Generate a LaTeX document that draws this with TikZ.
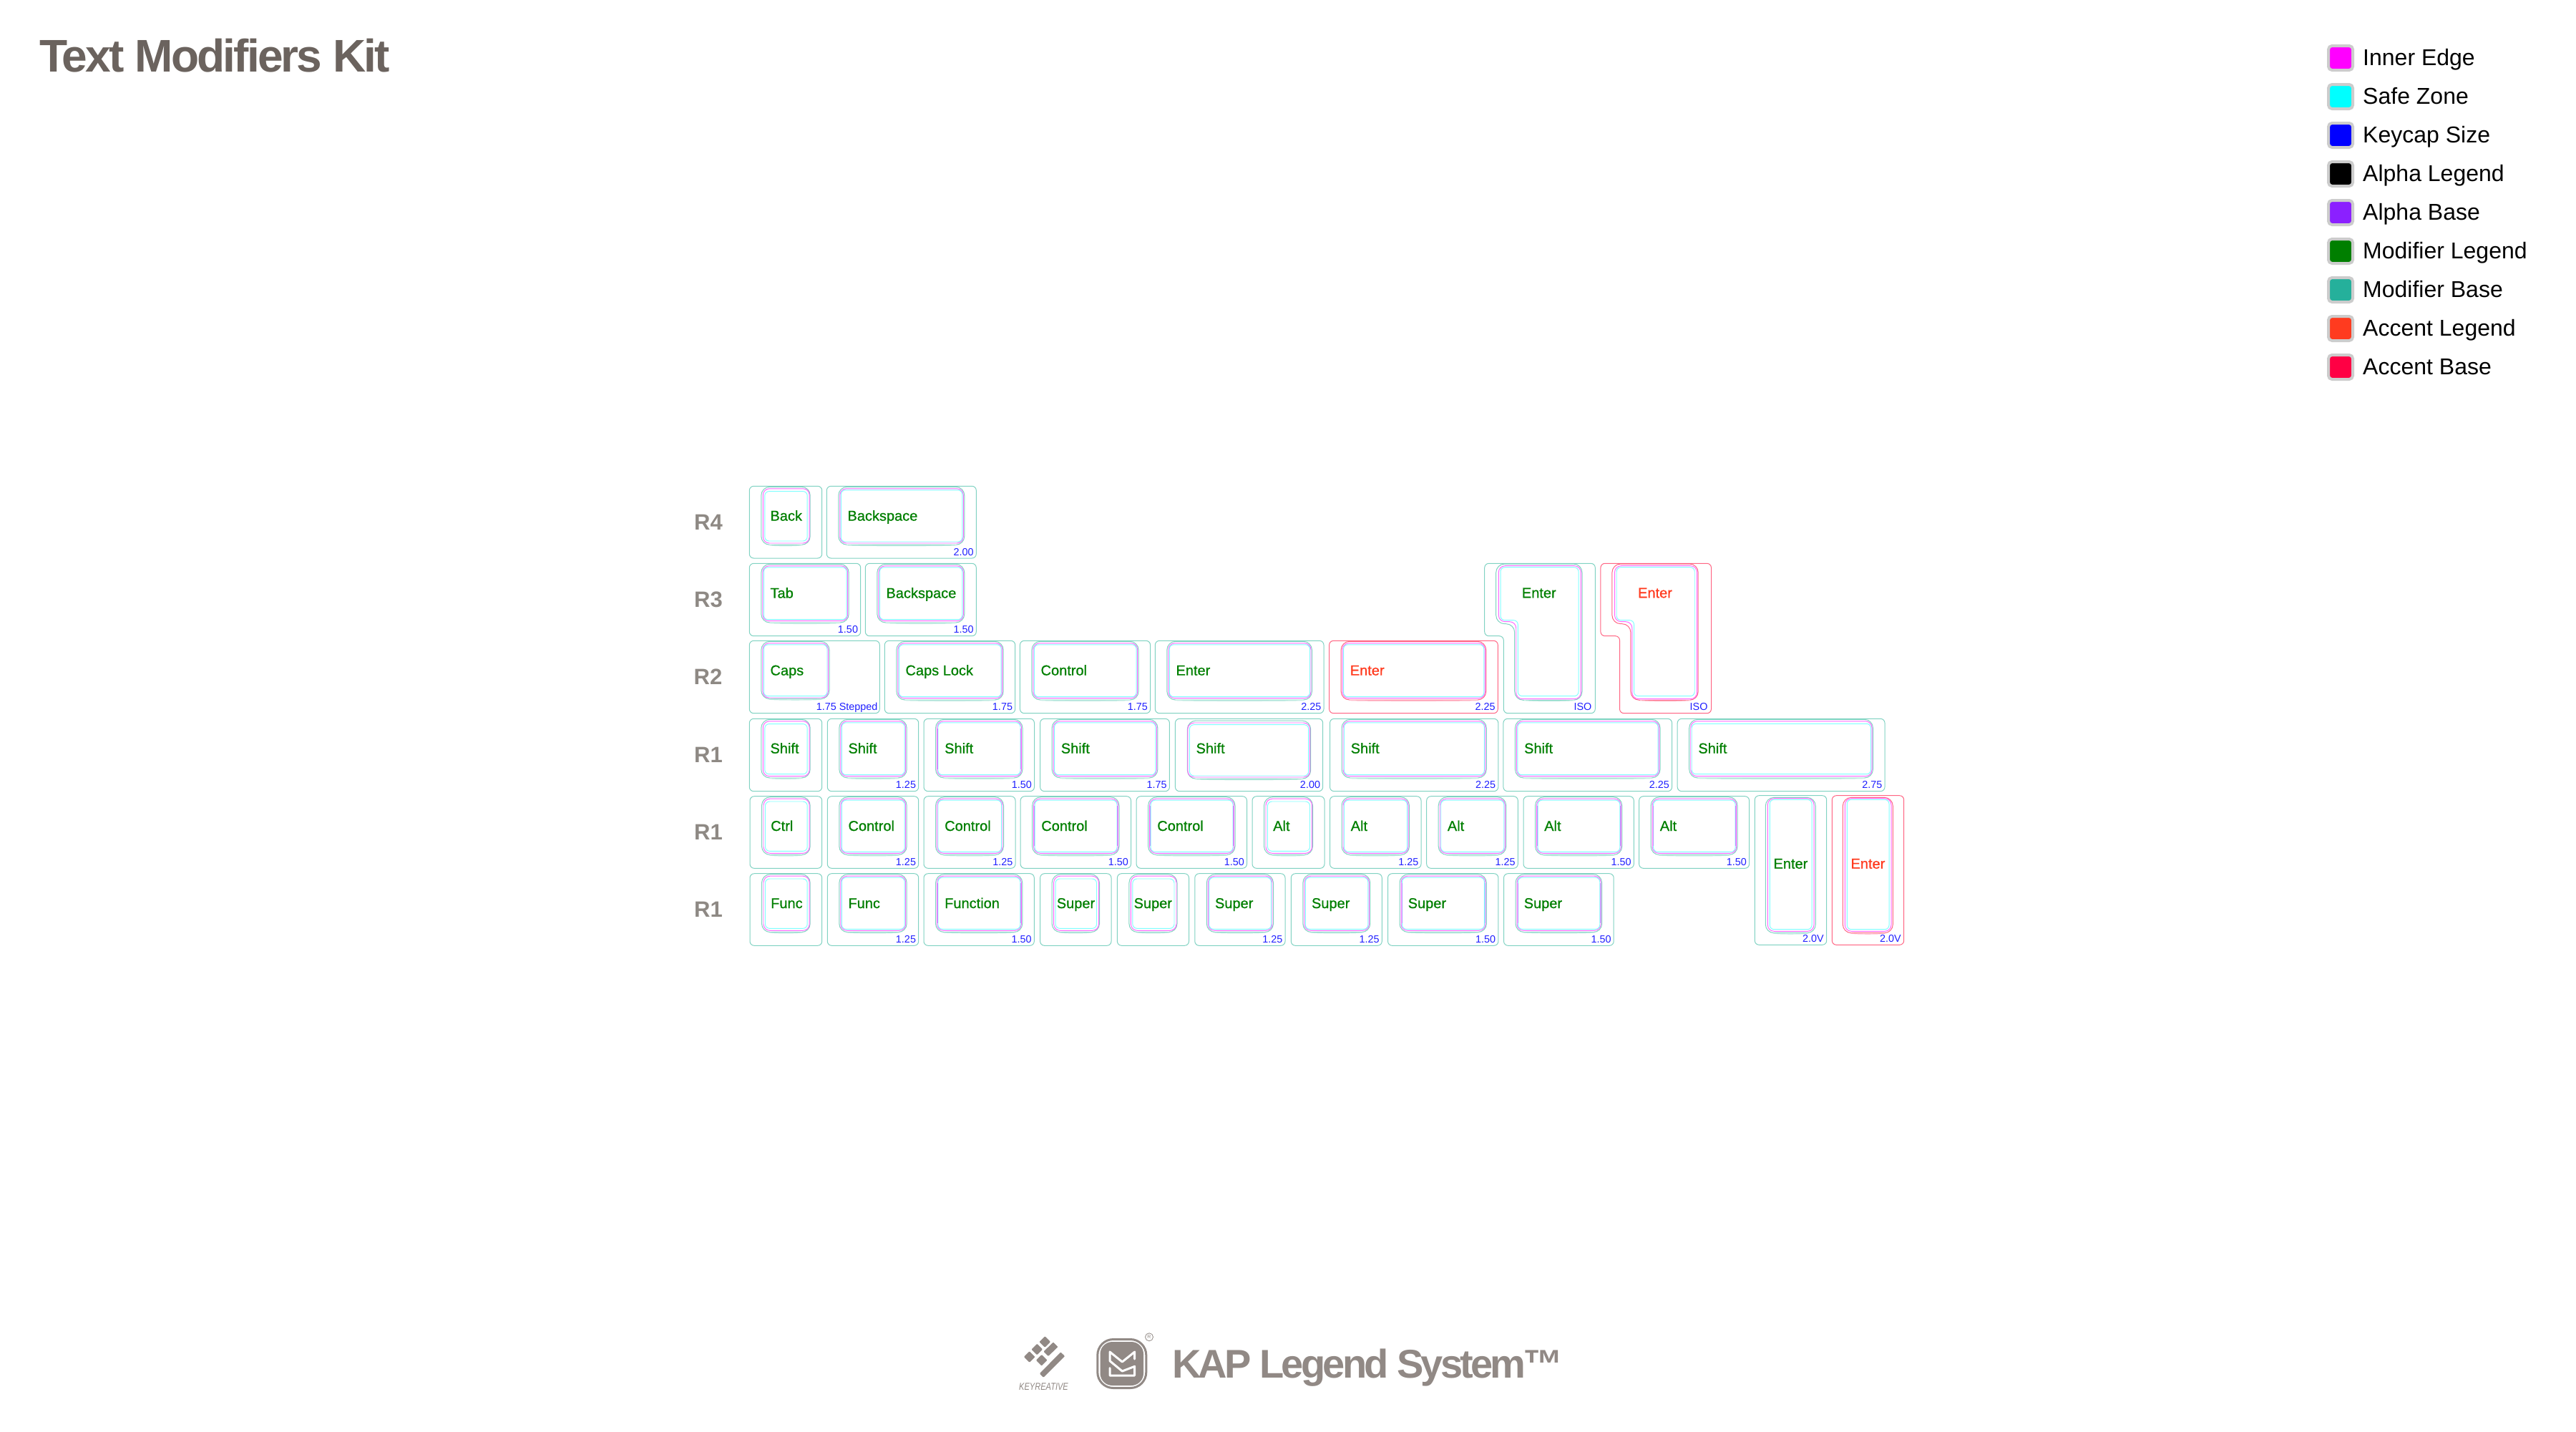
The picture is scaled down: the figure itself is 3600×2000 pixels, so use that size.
\documentclass[tikz,border=0pt]{standalone}
\usepackage{fontspec}
\usepackage{graphicx}
\setmainfont{Liberation Sans}
\newfontfamily\legendfont[FakeBold=0.7]{Liberation Sans}
\newfontfamily\titlefont[LetterSpace=-4.4]{Liberation Sans Bold}
\newfontfamily\brandfont[LetterSpace=-6.8]{Liberation Sans Bold}
\newfontfamily\rowfont{Liberation Sans Bold}
\newfontfamily\keyrfont[FakeStretch=0.79]{Liberation Sans Italic}
\definecolor{cTitle}{HTML}{6B635E}
\definecolor{cBrand}{HTML}{918985}
\definecolor{cRow}{HTML}{8E8984}
\definecolor{cTeal}{HTML}{80D2C2}
\definecolor{cTealPale}{HTML}{C8EDE6}
\definecolor{cPink}{HTML}{FF6583}
\definecolor{cPinkPale}{HTML}{FFC0CE}
\definecolor{cMag}{HTML}{FF66FF}
\definecolor{cCy}{HTML}{80FFFF}
\definecolor{cSide}{HTML}{B4A0FF}
\definecolor{cSize}{HTML}{2020FF}
\definecolor{cInner}{HTML}{FF00FF}
\definecolor{cSafe}{HTML}{00FFFF}
\definecolor{cCap}{HTML}{0000FF}
\definecolor{cAlphaL}{HTML}{000000}
\definecolor{cAlphaB}{HTML}{8B20FF}
\definecolor{cModL}{HTML}{007F00}
\definecolor{cModB}{HTML}{25B09B}
\definecolor{cAccL}{HTML}{FF3B1F}
\definecolor{cAccB}{HTML}{FF0044}
\pgfkeys{/kc/.cd,
 tl/.initial=16.5,tt/.initial=1,tr/.initial=16.5,tb/.initial=18.7,
 ml/.initial=18.5,mt/.initial=3.5,mr/.initial=18,mb/.initial=21,
 sl/.initial=20,st/.initial=5.5,sr/.initial=19.5,sb/.initial=23,
 lx/.initial=29,ly/.initial=48.3,szr/.initial=3.5,szb/.initial=4,
 col/.initial=cTeal,pale/.initial=cTealPale,leg/.initial=cModL,side/.initial=none,
 narrow/.style={sl=21.5,st=7.3,sr=20.5,sb=24,ml=19,mr=17.5},
 accent/.style={col=cPink,pale=cPinkPale,leg=cAccL},
 blue/.style={side=cSide}}
\newcommand{\kv}[1]{\pgfkeysvalueof{/kc/#1}}
% [options]{name}{L}{T}{R}{B}{legend}{size}
\newcommand{\keycap}[8][]{%
 \begin{scope}
 \pgfkeys{/kc/.cd,#1}
 \draw[outl,draw=\kv{col}] (#3,#4) rectangle (#5,#6);
 \draw[capl,draw=\kv{col}] ({#3+\kv{tl}},{#4+\kv{tt}}) rectangle ({#5-\kv{tr}},{#6-\kv{tb}});
 \draw[line width=1.2pt,draw=\kv{pale}] ({#3+\kv{tl}+11},{#6-\kv{tb}+.4}) .. controls ({#3+\kv{tl}+20},{#6-\kv{tb}+1.8}) and ({#5-\kv{tr}-20},{#6-\kv{tb}+1.8}) .. ({#5-\kv{tr}-11},{#6-\kv{tb}+.4});
 \draw[magl] ({#3+\kv{ml}},{#4+\kv{mt}}) rectangle ({#5-\kv{mr}},{#6-\kv{mb}});
 \draw[cyl] ({#3+\kv{sl}},{#4+\kv{st}}) rectangle ({#5-\kv{sr}},{#6-\kv{sb}});
 \draw[line width=.8pt,draw=\kv{side}] ({#3+\kv{sl}-.5},{#4+\kv{st}+8}) -- ({#3+\kv{sl}-.5},{#6-\kv{sb}-8});
 \draw[line width=.8pt,draw=\kv{side}] ({#5-\kv{sr}+.5},{#4+\kv{st}+8}) -- ({#5-\kv{sr}+.5},{#6-\kv{sb}-8});
 \node[legendtext,text=\kv{leg}] (#2) at ({#3+\kv{lx}},{#4+\kv{ly}}) {#7};
 \if\relax\detokenize{#8}\relax\else
 \node[sizetext] (#2s) at ({#5-\kv{szr}},{#6-\kv{szb}}) {#8};
 \fi
 \end{scope}}
% {name}{x offset}{colour}{pale}{legend colour}
\newcommand{\isokey}[5]{%
 \begin{scope}[xshift=#2pt]
 \draw[outl,draw=#3] (2074.7,787.3) -- (2229.3,787.3) -- (2229.3,996.7) -- (2101.3,996.7) -- (2101.3,888.7) -- (2074.7,888.7) -- cycle;
 \draw[capl,draw=#3] (2090.7,788) -- (2211,788) -- (2211,978.3) -- (2116.7,978.3) -- (2116.7,871.7) -- (2090.7,871.7) -- cycle;
 \draw[line width=1.2pt,draw=#4] (2130,978.7) .. controls (2150,980.2) and (2180,980.2) .. (2200,978.7);
 \draw[magl] (2094.3,790.7) -- (2209.3,790.7) -- (2209.3,976.7) -- (2118.7,976.7) -- (2118.7,868.7) -- (2094.3,868.7) -- cycle;
 \draw[cyl] (2097,792.7) -- (2206,792.7) -- (2206,972.7) -- (2121.3,972.7) -- (2121.3,866.7) -- (2097,866.7) -- cycle;
 \node[legendtext,text=#5] (#1) at (2126.7,835.3) {Enter};
 \node[sizetext] (#1s) at (2224.5,992.3) {ISO};
 \end{scope}}
\tikzset{
 outl/.style={line width=1pt,rounded corners=6pt},
 capl/.style={line width=1pt,rounded corners=12pt},
 magl/.style={line width=.95pt,draw=cMag,rounded corners=9pt},
 cyl/.style={line width=.95pt,draw=cCy,rounded corners=6pt},
 legendtext/.style={anchor=base west,inner sep=0pt,font=\legendfont\fontsize{20pt}{24pt}\selectfont},
 sizetext/.style={anchor=base east,inner sep=0pt,text=cSize,font=\fontsize{14.4pt}{17pt}\selectfont},
 rowlab/.style={anchor=base west,inner sep=0pt,text=cRow,font=\rowfont\fontsize{31pt}{36pt}\selectfont},
 swatch/.style={draw=black!20,line width=4pt,rounded corners=5pt,minimum size=34pt,inner sep=0pt,outer sep=0pt},
 swlab/.style={anchor=base west,inner sep=0pt,text=black,font=\fontsize{32pt}{38pt}\selectfont},
 logof/.style={draw=none,fill=cBrand,rounded corners=1pt},
}
\newcommand{\logodiamond}[2]{\fill[logof] ({#1-7.8},#2) -- (#1,{#2-7.8}) -- ({#1+7.8},#2) -- (#1,{#2+7.8}) -- cycle;}
\begin{document}
\begin{tikzpicture}[x=1pt,y=-1pt]
\useasboundingbox (0,0) rectangle (3600,2000);
\fill[white] (0,0) rectangle (3600,2000);
% title
\node[anchor=base west,inner sep=0pt,text=cTitle,font=\titlefont\fontsize{64pt}{70pt}\selectfont] (title) at (55,100) {Text Modifiers Kit};
% colour legend
\foreach \col/\lab [count=\i from 0] in {cInner/Inner Edge,cSafe/Safe Zone,cCap/Keycap Size,cAlphaL/Alpha Legend,cAlphaB/Alpha Base,cModL/Modifier Legend,cModB/Modifier Base,cAccL/Accent Legend,cAccB/Accent Base}{
  \node[swatch,fill=\col] (sw\i) at (3271,{81+54*\i}) {};
  \node[swlab] (swl\i) at (3302,{91.7+54*\i}) {\lab};
}
% row labels
\node[rowlab] (r4) at (970,740) {R4};
\node[rowlab] (r3) at (970,848.3) {R3};
\node[rowlab] (r2) at (969.5,956) {R2};
\node[rowlab] (r1a) at (970,1065) {R1};
\node[rowlab] (r1b) at (970,1173.4) {R1};
\node[rowlab] (r1c) at (970,1281.4) {R1};
% R4
\keycap[narrow]{kBack}{1047.3}{679.3}{1148.7}{780}{Back}{}
\keycap{kBs}{1155.3}{679.3}{1364.3}{780}{Backspace}{2.00}
% R3
\keycap{kTab}{1047.3}{787.3}{1202.7}{888.7}{Tab}{1.50}
\keycap{kBsb}{1209.3}{787.3}{1364.3}{888.7}{Backspace}{1.50}
\isokey{kIsoG}{0}{cTeal}{cTealPale}{cModL}
\isokey{kIsoR}{162.2}{cPink}{cPinkPale}{cAccL}
% R2
\keycap[tr=70.3,mr=72,sr=73.3,tb=20,mb=21.7,sb=24,szr=2.6]{kCaps}{1047.3}{895.3}{1229.3}{996.7}{Caps}{1.75 Stepped}
\keycap{kCapl}{1236.3}{895.3}{1418.7}{996.7}{Caps Lock}{1.75}
\keycap{kCtlb}{1425.4}{895.3}{1607.6}{996.7}{Control}{1.75}
\keycap{kEntg}{1614.3}{895.3}{1850}{996.7}{Enter}{2.25}
\keycap[accent]{kEntr}{1857.6}{895.3}{2093.3}{996.7}{Enter}{2.25}
% R1 shift
\keycap[narrow]{kSa}{1047.3}{1004.3}{1148.7}{1105.7}{Shift}{}
\keycap{kSb}{1156.3}{1004.3}{1283.7}{1105.7}{Shift}{1.25}
\keycap[blue]{kSc}{1291}{1004.3}{1445.5}{1105.7}{Shift}{1.50}
\keycap{kSd}{1453.6}{1004.3}{1634.4}{1105.7}{Shift}{1.75}
\keycap[tl=17,tt=2.7,tr=17,tb=17.4,ml=17.4,mt=5.7,mr=18,mb=19.7,sl=20,st=8.4,sr=20,sb=21.7]{kSe}{1642.4}{1004.3}{1848.7}{1105.7}{Shift}{2.00}
\keycap{kSf}{1858.5}{1004.3}{2093.8}{1105.7}{Shift}{2.25}
\keycap{kSg}{2100.9}{1004.3}{2336.6}{1105.7}{Shift}{2.25}
\keycap[st=7,sb=24]{kSh}{2344.2}{1004.3}{2634}{1105.7}{Shift}{2.75}
% R1 control
\keycap[narrow]{kCa}{1048}{1112.7}{1148.7}{1213.3}{Ctrl}{}
\keycap{kCb}{1156.3}{1112.7}{1283.7}{1213.3}{Control}{1.25}
\keycap{kCc}{1291}{1112.7}{1419}{1213.3}{Control}{1.25}
\keycap[blue]{kCd}{1426.1}{1112.7}{1580.5}{1213.3}{Control}{1.50}
\keycap[blue]{kCe}{1588.1}{1112.7}{1742.5}{1213.3}{Control}{1.50}
\keycap[narrow]{kAa}{1750}{1112.7}{1851}{1213.3}{Alt}{}
\keycap{kAb}{1858.5}{1112.7}{1986}{1213.3}{Alt}{1.25}
\keycap{kAc}{1993.7}{1112.7}{2121.3}{1213.3}{Alt}{1.25}
\keycap[blue]{kAd}{2129}{1112.7}{2283.3}{1213.3}{Alt}{1.50}
\keycap[blue]{kAe}{2290.6}{1112.7}{2444.6}{1213.3}{Alt}{1.50}
% vertical enter
\keycap[tl=15,tt=2.6,tr=15.4,tb=16.6,ml=18,mt=4,mr=17.7,mb=19,sl=21,st=5.6,sr=20.7,sb=21.6,lx=26,ly=102,szr=3.7]{kVg}{2452.3}{1111.7}{2552.7}{1320.3}{Enter}{2.0V}
\keycap[accent,tl=15,tt=2.6,tr=15.4,tb=16.6,ml=18,mt=4,mr=17.7,mb=19,sl=21,st=5.6,sr=20.7,sb=21.6,lx=26,ly=102,szr=3.7]{kVr}{2560.3}{1111.7}{2660.7}{1320.3}{Enter}{2.0V}
% R1 function
\keycap[narrow]{kFa}{1048}{1220.7}{1148.7}{1321.3}{Func}{}
\keycap{kFb}{1156.3}{1220.7}{1283.7}{1321.3}{Func}{1.25}
\keycap[blue]{kFc}{1291}{1220.7}{1445.3}{1321.3}{Function}{1.50}
\keycap[narrow,lx=23]{kUa}{1453.6}{1220.7}{1553}{1321.3}{Super}{}
\keycap[narrow,lx=23]{kUb}{1561.4}{1220.7}{1661.5}{1321.3}{Super}{}
\keycap[lx=28]{kUc}{1669.8}{1220.7}{1796}{1321.3}{Super}{1.25}
\keycap[lx=28.5]{kUd}{1804.3}{1220.7}{1931.3}{1321.3}{Super}{1.25}
\keycap[blue,lx=28]{kUe}{1939.5}{1220.7}{2093.9}{1321.3}{Super}{1.50}
\keycap[blue,lx=28]{kUf}{2101.5}{1220.7}{2255.2}{1321.3}{Super}{1.50}
% Keyreative mark
\logodiamond{1460.3}{1875}
\logodiamond{1449.3}{1885.5}
\logodiamond{1438.7}{1896}
\logodiamond{1455.7}{1900.7}
\fill[logof] (1458.5,1888.5) -- (1465,1895) -- (1478.5,1882) -- (1472,1875.5) -- cycle;
\fill[logof] (1452.8,1919.3) -- (1458.3,1924.8) -- (1488.2,1895) -- (1482.3,1889.5) -- cycle;
\node[anchor=base west,inner sep=0pt,text=cBrand,font=\keyrfont\fontsize{14pt}{16pt}\selectfont] (kr) at (1424,1942.7) {KEYREATIVE};
% KAP badge
\draw[draw=cBrand,line width=3pt,rounded corners=22pt] (1533.8,1871.5) rectangle (1601.8,1939.5);
\fill[cBrand,rounded corners=17pt] (1537.5,1875) rectangle (1598,1936);
\draw[white,line width=3pt,line join=round,line cap=round] (1585.7,1899) -- (1585.7,1889) -- (1568.3,1903) -- (1551,1889) -- (1551,1901.7) -- (1568.3,1916) -- (1585.7,1909.3) -- (1585.7,1922) -- (1551,1922) -- (1551,1911.7);
\node[circle,draw=cBrand,line width=.8pt,minimum size=11pt,inner sep=0pt,text=cBrand,font=\fontsize{7pt}{8pt}\selectfont] (reg) at (1606,1868.3) {R};
\node[anchor=base west,inner sep=0pt,text=cBrand,font=\brandfont\fontsize{56pt}{62pt}\selectfont] (brand) at (1638,1925.7) {KAP Legend System™};
\end{tikzpicture}
\end{document}
